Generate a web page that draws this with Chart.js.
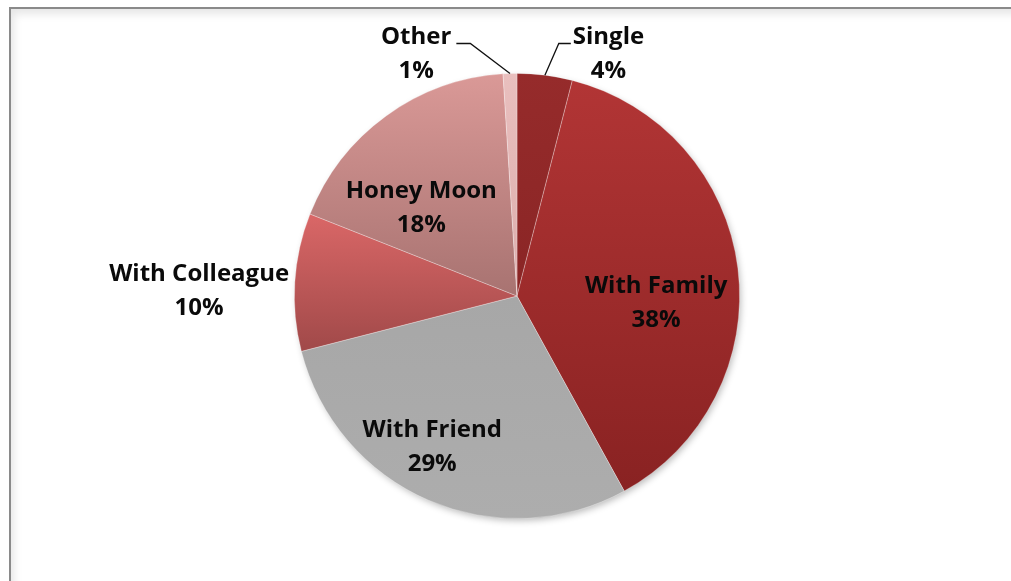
<!DOCTYPE html>
<html>
<head>
<meta charset="utf-8">
<script src="https://cdn.jsdelivr.net/npm/chart.js@4/dist/chart.umd.min.js"></script>
<style>
  html, body { margin: 0; padding: 0; background: #fff; }
  #wrap { position: relative; width: 1011px; height: 581px; overflow: hidden; }
  #frame {
    position: absolute; left: 9px; top: 7px; right: -10px; bottom: -10px;
    border-left: 2px solid #8a8a8a; border-top: 2px solid #8a8a8a;
    box-shadow: inset 3px 5px 9px rgba(0, 0, 0, 0.10);
  }
  canvas { position: absolute; left: 0; top: 0; }
</style>
</head>
<body>
<div id="wrap">
  <div id="frame"></div>
  <canvas id="chart" width="1011" height="581"></canvas>
</div>
<script>
// Travel companions survey
const categories = ['Single', 'With Family', 'With Friend', 'With Colleague', 'Honey Moon', 'Other'];
const shares = [4, 38, 29, 10, 18, 1];
const percentLabels = ['4%', '38%', '29%', '10%', '18%', '1%'];

// vertical gradient per slice: colour at the slice's top edge and at its bottom edge
const topColors = ['#962b2b', '#b23535', '#a7a7a7', '#da6767', '#da9997', '#e9bfbe'];
const bottomColors = ['#8a2525', '#892222', '#adadad', '#a04949', '#a87371', '#dcadac'];

// label centres relative to the pie centre, in units of the radius
const labelOffsets = [
  [0.411, -1.085],
  [0.625, 0.034],
  [-0.381, 0.677],
  [-1.428, -0.020],
  [-0.430, -0.393],
  [-0.453, -1.085]
];
// slices whose label sits outside with a leader line: side of the label relative to the line
const leaderSide = { 0: 'right', 5: 'left' };

const FONT = 'bold 24px "Open Sans", Lato, sans-serif';
const LINE_GAP = 34;

function arcYExtent(arc) {
  const r = arc.outerRadius;
  let a0 = arc.startAngle, a1 = arc.endAngle;
  const ys = [arc.y, arc.y + r * Math.sin(a0), arc.y + r * Math.sin(a1)];
  const within = (t) => {
    const twoPi = Math.PI * 2;
    let s = ((a0 % twoPi) + twoPi) % twoPi;
    let e = s + (a1 - a0);
    let x = ((t % twoPi) + twoPi) % twoPi;
    if (x < s) x += twoPi;
    return x <= e;
  };
  if (within(-Math.PI / 2)) ys.push(arc.y - r);
  if (within(Math.PI / 2)) ys.push(arc.y + r);
  return [Math.min(...ys), Math.max(...ys)];
}

const sliceStyle = {
  id: 'sliceStyle',
  beforeDatasetsDraw(chart) {
    const ctx = chart.ctx;
    const meta = chart.getDatasetMeta(0);
    const first = meta.data[0];
    // soft drop shadow under the whole pie
    ctx.save();
    ctx.shadowColor = 'rgba(0,0,0,0.28)';
    ctx.shadowBlur = 7;
    ctx.shadowOffsetX = 2;
    ctx.shadowOffsetY = 3;
    ctx.fillStyle = '#ffffff';
    ctx.beginPath();
    ctx.arc(first.x, first.y, first.outerRadius - 1, 0, Math.PI * 2);
    ctx.fill();
    ctx.restore();
    meta.data.forEach((arc, i) => {
      const [y0, y1] = arcYExtent(arc);
      const g = ctx.createLinearGradient(0, y0, 0, y1);
      g.addColorStop(0, topColors[i]);
      g.addColorStop(1, bottomColors[i]);
      arc.options.backgroundColor = g;
    });
  }
};

const sliceLabels = {
  id: 'sliceLabels',
  afterDatasetsDraw(chart) {
    const ctx = chart.ctx;
    const meta = chart.getDatasetMeta(0);
    ctx.save();
    ctx.font = FONT;
    ctx.fillStyle = '#0a0a0a';
    ctx.textAlign = 'center';
    ctx.textBaseline = 'middle';
    meta.data.forEach((arc, i) => {
      const r = arc.outerRadius;
      const lx = arc.x + labelOffsets[i][0] * r;
      const ly = arc.y + labelOffsets[i][1] * r;
      ctx.fillText(categories[i], lx, ly - LINE_GAP / 2);
      ctx.fillText(percentLabels[i], lx, ly + LINE_GAP / 2);
      const side = leaderSide[i];
      if (side) {
        const mid = (arc.startAngle + arc.endAngle) / 2;
        const px = arc.x + Math.cos(mid) * r;
        const py = arc.y + Math.sin(mid) * r;
        const w = ctx.measureText(categories[i]).width;
        const lineY = ly - 11;
        const endX = side === 'right' ? lx - w / 2 - 2 : lx + w / 2 + 5;
        const elbowX = side === 'right' ? endX - 12 : endX + 14;
        ctx.save();
        ctx.strokeStyle = '#111111';
        ctx.lineWidth = 1.3;
        ctx.beginPath();
        ctx.moveTo(px, py);
        ctx.lineTo(elbowX, lineY);
        ctx.lineTo(endX, lineY);
        ctx.stroke();
        ctx.restore();
      }
    });
    ctx.restore();
  }
};

new Chart(document.getElementById('chart'), {
  type: 'pie',
  data: {
    labels: categories,
    datasets: [{
      data: shares,
      backgroundColor: topColors,
      borderColor: 'rgba(255,255,255,0.35)',
      borderWidth: 0.8
    }]
  },
  options: {
    responsive: false,
    animation: false,
    layout: { padding: { left: 294, right: 271, top: 73, bottom: 62 } },
    plugins: {
      legend: { display: false },
      tooltip: { enabled: false }
    }
  },
  plugins: [sliceStyle, sliceLabels]
});
</script>
</body>
</html>
